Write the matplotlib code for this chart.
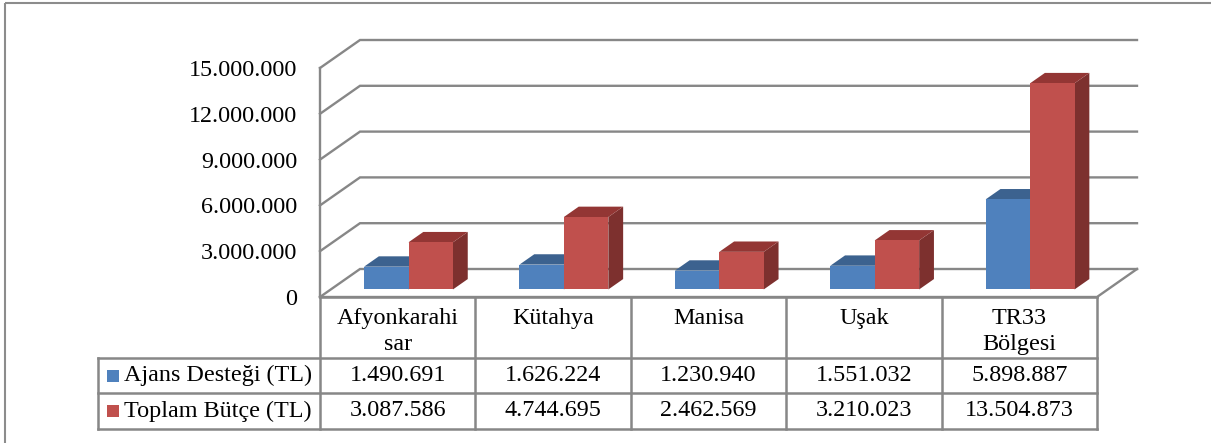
import matplotlib
matplotlib.use("Agg")
import matplotlib.pyplot as plt
from matplotlib.patches import Polygon, Rectangle
from matplotlib.ticker import FuncFormatter

# data
categories = ["Afyonkarahi\nsar", "Kütahya", "Manisa", "Uşak", "TR33\nBölgesi"]
series_names = ["Ajans Desteği (TL)", "Toplam Bütçe (TL)"]
ajans = [1490691, 1626224, 1230940, 1551032, 5898887]
toplam = [3087586, 4744695, 2462569, 3210023, 13504873]
yticks = [0, 3000000, 6000000, 9000000, 12000000, 15000000]

front_colors = ["#4F81BD", "#C0504D"]
top_colors = ["#3C628F", "#933634"]
side_colors = ["#385D8A", "#7D302E"]
grid_col = "#878787"

plt.rcParams["font.family"] = ["Liberation Serif", "DejaVu Serif"]
FS = 17.4

W, H = 1211, 443
fig = plt.figure(figsize=(W / 100, H / 100), dpi=100)

# plot area in pixels (front plane)
L, R, T, B = 320, 1097, 68, 297
ax = fig.add_axes([L / W, 1 - B / H, (R - L) / W, (B - T) / H])
ax.set_xlim(0, len(categories))
ax.set_ylim(0, 15000000)
for s in ax.spines.values():
    s.set_visible(False)
ax.set_xticks([])
ax.set_yticks(yticks)
ax.yaxis.set_major_formatter(FuncFormatter(lambda v, p: f"{int(v):,}".replace(",", ".")))
ax.tick_params(axis="y", length=0, pad=16.5, labelsize=FS)
ax.patch.set_visible(False)

# depth of the 3D box in data units
DX = 40 / ((R - L) / len(categories))
DY = 28 / ((B - T) / 15000000)
n = len(categories)

# walls: side wall diagonals + back wall gridlines
glw = 1.7
for t in yticks:
    ax.plot([0, DX, n + DX], [t, t + DY, t + DY], color=grid_col, lw=glw,
            clip_on=False, zorder=1, solid_joinstyle="miter")
ax.plot([0, 0], [0, 15000000], color=grid_col, lw=glw, clip_on=False, zorder=1)
ax.plot([0, n, n + DX], [0, 0, DY], color=grid_col, lw=glw, clip_on=False, zorder=1)

# bars
bw = 0.286
f0, f1 = 0.27, 0.64
for i in range(n):
    for s, vals in enumerate([ajans, toplam]):
        v = vals[i]
        xl = i + 0.5 + (s - 1) * bw
        xr = xl + bw
        ox0, oy0 = f0 * DX, f0 * DY
        ox1, oy1 = f1 * DX, f1 * DY
        side = [(xr + ox0, oy0), (xr + ox1, oy1), (xr + ox1, v + oy1), (xr + ox0, v + oy0)]
        top = [(xl + ox0, v + oy0), (xr + ox0, v + oy0), (xr + ox1, v + oy1), (xl + ox1, v + oy1)]
        front = [(xl + ox0, oy0), (xr + ox0, oy0), (xr + ox0, v + oy0), (xl + ox0, v + oy0)]
        for poly, c in [(side, side_colors[s]), (top, top_colors[s]), (front, front_colors[s])]:
            ax.add_patch(Polygon(poly, closed=True, facecolor=c, edgecolor="none",
                                 clip_on=False, zorder=3 + i * 2 + s))

# overlay in pixel coords for border + data table
ov = fig.add_axes([0, 0, 1, 1])
ov.set_xlim(0, W)
ov.set_ylim(H, 0)
ov.axis("off")
ov.patch.set_visible(False)

ov.add_patch(Rectangle((5, 3), W + 20, H + 20, fill=False, edgecolor="#8c8c8c", lw=1.5))

cw = (R - L) / n
row_y = [B, 358, 393, 429]
lx = 98
lk = dict(color=grid_col, lw=1.8)
ov.plot([L, R], [row_y[0], row_y[0]], **lk)
for y in row_y[1:]:
    ov.plot([lx, R], [y, y], **lk)
ov.plot([lx, lx], [row_y[1], row_y[3]], **lk)
for k in range(n + 1):
    ov.plot([L + k * cw, L + k * cw], [row_y[0], row_y[3]], **lk)

for i, c in enumerate(categories):
    ov.text(L + (i + 0.5) * cw, 308, c, ha="center", va="top", fontsize=FS,
            linespacing=1.32)

for r, vals in enumerate([ajans, toplam]):
    yc = (row_y[r + 1] + row_y[r + 2]) / 2
    ov.add_patch(Rectangle((107, yc - 6), 12, 12, facecolor=front_colors[r], edgecolor="none"))
    ov.text(124, yc, series_names[r], ha="left", va="center", fontsize=FS)
    for i, v in enumerate(vals):
        ov.text(L + (i + 0.5) * cw, yc, f"{v:,}".replace(",", "."), ha="center",
                va="center", fontsize=FS)

fig.savefig("out.png", dpi=100)
